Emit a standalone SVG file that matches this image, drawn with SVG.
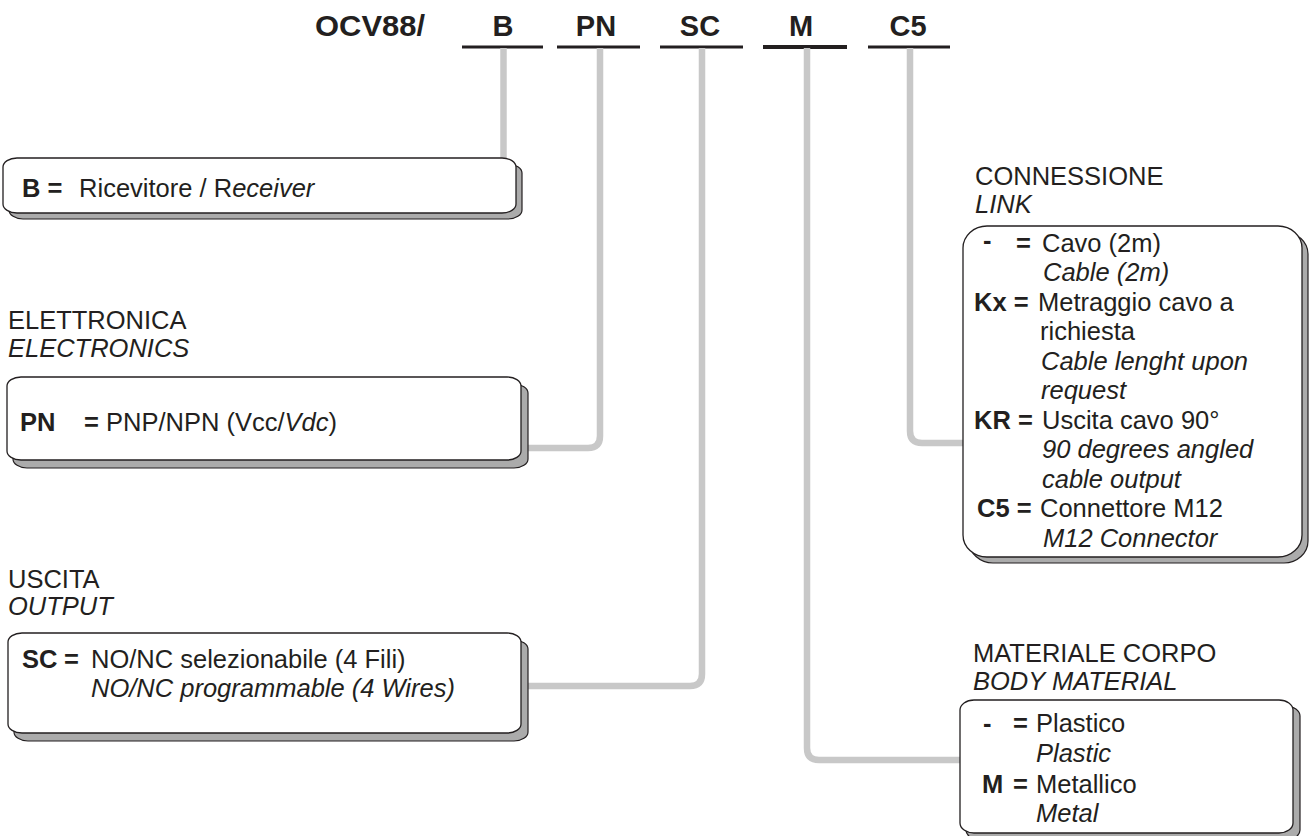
<svg xmlns="http://www.w3.org/2000/svg" width="1311" height="836" viewBox="0 0 1311 836">
<style>
text{font-family:"Liberation Sans",Arial,sans-serif;fill:#231f20}
.h{font-size:29px;font-weight:bold}
.t{font-size:25.5px}
.b{font-weight:bold}
.i{font-style:italic}
.ul{stroke:#231f20;stroke-width:3}
.con{fill:none;stroke:#c8c8c8;stroke-width:6.5}
.box{fill:#fff;stroke:#231f20;stroke-width:1.3}
.sh{fill:#ababab;stroke:#231f20;stroke-width:1.2}
</style>
<g id="header">
<text class="h" x="315" y="36" textLength="110" lengthAdjust="spacingAndGlyphs">OCV88/</text>
<text class="h" x="503" y="36" text-anchor="middle">B</text>
<text class="h" x="596" y="36" text-anchor="middle">PN</text>
<text class="h" x="700" y="36" text-anchor="middle">SC</text>
<text class="h" x="801" y="36" text-anchor="middle">M</text>
<text class="h" x="908" y="36" text-anchor="middle">C5</text>
<line class="ul" x1="462" y1="47" x2="543" y2="47"/>
<line class="ul" x1="557" y1="47" x2="640" y2="47"/>
<line class="ul" x1="660" y1="47" x2="743" y2="47"/>
<line class="ul" x1="763" y1="47" x2="847" y2="47" style="stroke-width:4"/>
<line class="ul" x1="868" y1="47" x2="950" y2="47"/>
</g>
<g id="connectors">
<path class="con" d="M503.5 48 V160"/>
<path class="con" d="M600 48 V436 Q600 448 588 448 H526"/>
<path class="con" d="M702 48 V674 Q702 686 690 686 H526"/>
<path class="con" d="M807 48 V748 Q807 760 819 760 H962"/>
<path class="con" d="M910 48 V431 Q910 443 922 443 H965"/>
</g>
<g id="nodeB">
<rect class="sh" x="9" y="164" width="513" height="55" rx="14" ry="9"/>
<rect class="box" x="3" y="158" width="513" height="55" rx="14" ry="9"/>
<text class="t" y="197"><tspan class="b" x="22">B =</tspan><tspan x="72"> Ricevitore / R</tspan><tspan class="i">eceiver</tspan></text>
</g>
<g id="nodePN">
<text class="t" x="8" y="329">ELETTRONICA</text>
<text class="t i" x="8" y="357">ELECTRONICS</text>
<rect class="sh" x="13" y="384" width="515" height="84" rx="14" ry="9"/>
<rect class="box" x="7" y="377" width="514" height="83" rx="14" ry="9"/>
<text class="t" y="431"><tspan class="b" x="20">PN</tspan><tspan class="b" x="84">=</tspan><tspan x="106">PNP/NPN (Vcc/</tspan><tspan class="i">Vdc</tspan><tspan>)</tspan></text>
</g>
<g id="nodeSC">
<text class="t" x="8" y="588">USCITA</text>
<text class="t i" x="8" y="615">OUTPUT</text>
<rect class="sh" x="14" y="640" width="514" height="101" rx="14" ry="9"/>
<rect class="box" x="8" y="633" width="513" height="100" rx="14" ry="9"/>
<text class="t" y="668"><tspan class="b" x="22">SC</tspan><tspan class="b" x="64">=</tspan><tspan x="91">NO/NC selezionabile (4 Fili)</tspan></text>
<text class="t i" x="91" y="697">NO/NC programmable (4 Wires)</text>
</g>
<g id="nodeC5">
<text class="t" x="975" y="185">CONNESSIONE</text>
<text class="t i" x="975" y="213">LINK</text>
<rect class="sh" x="969" y="232" width="339" height="331" rx="24" ry="22"/>
<rect class="box" x="963" y="226" width="339" height="331" rx="24" ry="22"/>
<text class="t b" x="983" y="249">-</text>
<text class="t b" x="1016" y="252">=</text>
<text class="t" x="1042" y="252">Cavo  (2m)</text>
<text class="t i" x="1043" y="281">Cable (2m)</text>
<text class="t b" x="974" y="311">Kx =</text>
<text class="t" x="1038" y="311">Metraggio cavo a</text>
<text class="t" x="1040" y="340">richiesta</text>
<text class="t i" x="1041" y="370">Cable lenght upon</text>
<text class="t i" x="1041" y="399">request</text>
<text class="t b" x="974" y="429">KR =</text>
<text class="t" x="1042" y="429">Uscita cavo  90°</text>
<text class="t i" x="1042" y="458">90 degrees angled</text>
<text class="t i" x="1042" y="488">cable output</text>
<text class="t b" x="977" y="517">C5 =</text>
<text class="t" x="1040" y="517">Connettore M12</text>
<text class="t i" x="1043" y="547">M12 Connector</text>
</g>
<g id="nodeM">
<text class="t" x="973" y="662">MATERIALE CORPO</text>
<text class="t i" x="973" y="690">BODY MATERIAL</text>
<rect class="sh" x="966" y="706" width="334" height="134" rx="14" ry="10"/>
<rect class="box" x="960" y="700" width="333" height="133" rx="14" ry="10"/>
<text class="t b" x="983" y="732">-</text>
<text class="t b" x="1013" y="732">=</text>
<text class="t" x="1036" y="732">Plastico</text>
<text class="t i" x="1036" y="762">Plastic</text>
<text class="t b" x="982" y="793">M</text>
<text class="t b" x="1013" y="793">=</text>
<text class="t" x="1036" y="793">Metallico</text>
<text class="t i" x="1036" y="822">Metal</text>
</g>
</svg>
